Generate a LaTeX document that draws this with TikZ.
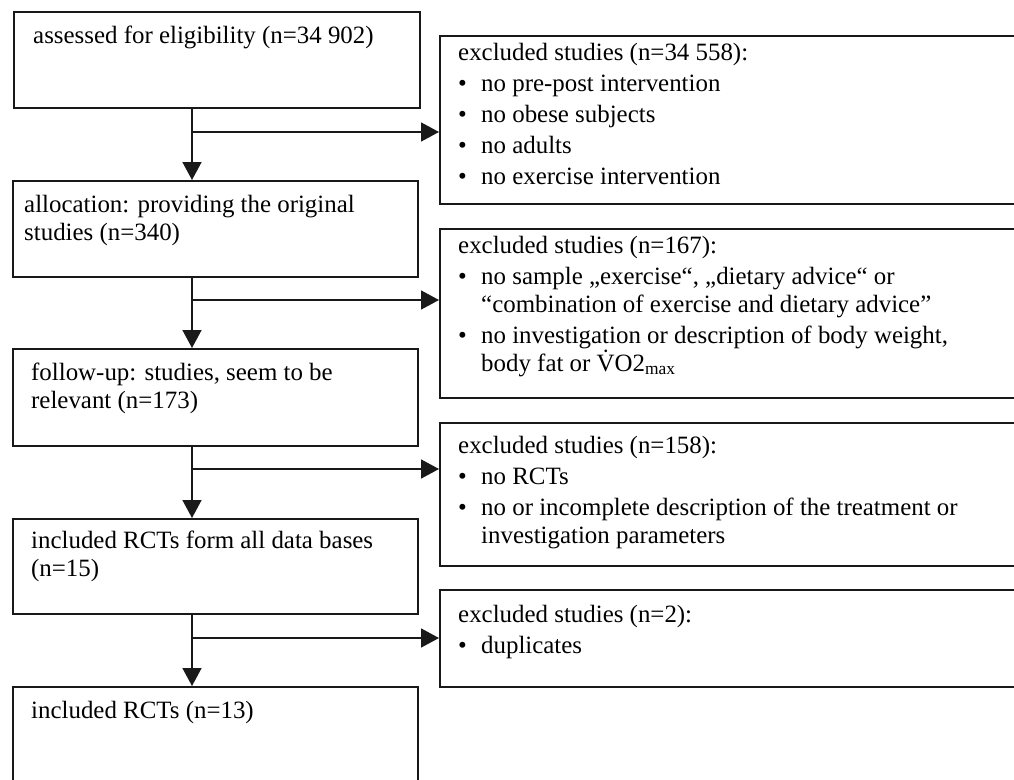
\documentclass[tikz,border=0pt]{standalone}
\usepackage{fontspec}
\setmainfont{Liberation Serif}
\usetikzlibrary{arrows.meta}
\newcommand{\bul}{\makebox[23pt][l]{\textbullet}}
\newcommand{\ind}{\hspace*{23pt}}
\tikzset{
  box/.style={draw=black!90, line width=1.6pt, rectangle, anchor=north west, inner sep=0pt},
  txt/.style={anchor=base west, inner sep=0pt, font=\fontsize{24.9}{28}\selectfont},
  arr/.style={draw=black!90, line width=1.6pt, -{Triangle[width=19pt,length=18pt]}},
  ln/.style={draw=black!90, line width=1.6pt}
}
\begin{document}
\begin{tikzpicture}[x=1pt,y=-1pt]
\useasboundingbox (0,0) rectangle (1014,779);
\clip (0,0) rectangle (1014,779);
% left column boxes
\node[box, minimum width=406pt, minimum height=96pt] (b1) at (13,11) {};
\node[box, minimum width=405pt, minimum height=96pt] (b2) at (12,180) {};
\node[box, minimum width=405pt, minimum height=97pt] (b3) at (12,348) {};
\node[box, minimum width=405pt, minimum height=95pt] (b4) at (12,518) {};
\node[box, minimum width=405pt, minimum height=120pt] (b5) at (12,686) {};
% right column boxes
\node[box, minimum width=600pt, minimum height=168pt] (r1) at (439,35) {};
\node[box, minimum width=600pt, minimum height=169pt] (r2) at (439,228) {};
\node[box, minimum width=600pt, minimum height=143pt] (r3) at (439,422) {};
\node[box, minimum width=600pt, minimum height=97pt] (r4) at (439,589) {};
% texts left
\node[txt] (t1) at (33,43) {assessed for eligibility (n=34 902)};
\node[txt] (t2) at (24,212) {\parbox[t]{390pt}{\raggedright allocation: providing the original\\studies (n=340)}};
\node[txt] (t3) at (31,380) {\parbox[t]{390pt}{\raggedright follow-up: studies, seem to be\\relevant (n=173)}};
\node[txt] (t4) at (31,548) {\parbox[t]{390pt}{\raggedright included RCTs form all data bases\\(n=15)}};
\node[txt] (t5) at (31,718) {included RCTs (n=13)};
% texts right
\node[txt] (s1) at (458,60) {\parbox[t]{560pt}{\raggedright excluded studies (n=34 558):\\[3pt]
\bul no pre-post intervention\\[3pt]
\bul no obese subjects\\[3pt]
\bul no adults\\[3pt]
\bul no exercise intervention}};
\node[txt] (s2) at (458,253) {\parbox[t]{560pt}{\raggedright excluded studies (n=167):\\[3pt]
\bul no sample „exercise“, „dietary advice“ or\\
\ind “combination of exercise and dietary advice”\\[3pt]
\bul no investigation or description of body weight,\\
\ind body fat or \.{V}O2\textsubscript{max}}};
\node[txt] (s3) at (458,453) {\parbox[t]{560pt}{\raggedright excluded studies (n=158):\\[3pt]
\bul no RCTs\\[3pt]
\bul no or incomplete description of the treatment or\\
\ind investigation parameters}};
\node[txt] (s4) at (458,622) {\parbox[t]{560pt}{\raggedright excluded studies (n=2):\\[3pt]
\bul duplicates}};
% connectors
\coordinate (sp) at (192,0);
\coordinate (j1) at (192,132);
\coordinate (j2) at (192,300);
\coordinate (j3) at (192,469);
\coordinate (j4) at (192,638);
\draw[arr] (b1.south -| sp) -- (b2.north -| sp);
\draw[arr] (b2.south -| sp) -- (b3.north -| sp);
\draw[arr] (b3.south -| sp) -- (b4.north -| sp);
\draw[arr] (b4.south -| sp) -- (b5.north -| sp);
\draw[arr] (j1) -- (j1 -| r1.west);
\draw[arr] (j2) -- (j2 -| r2.west);
\draw[arr] (j3) -- (j3 -| r3.west);
\draw[arr] (j4) -- (j4 -| r4.west);
\end{tikzpicture}
\end{document}
